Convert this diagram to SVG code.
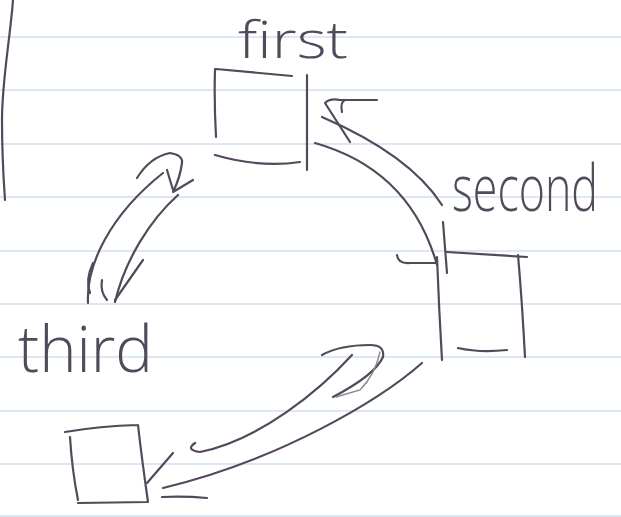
<svg xmlns="http://www.w3.org/2000/svg" width="621" height="517" viewBox="0 0 621 517">
  <style>
    .rule { stroke: #b4d2ee; stroke-width: 1.2; fill: none; }
    .pen { stroke: #514a5a; stroke-width: 2.2; fill: none; stroke-linecap: round; stroke-linejoin: round; }
    .faint { stroke: #8c8594; stroke-width: 1.4; fill: none; stroke-linecap: round; }
    .hand { font-family: "Open Sans", "DejaVu Sans", sans-serif; font-weight: 300; fill: #514a5a; }
  </style>
  <rect width="621" height="517" fill="#ffffff"/>
  <g id="paper">
    <path class="rule" d="M0,37 H621 M0,90 H621 M0,144 H621 M0,197 H621 M0,251 H621 M0,304 H621 M0,357 H621 M0,411 H621 M0,464 H621 M0,516 H621"/>
    <path class="pen" d="M13,0 C10,40 2,80 2,120 C2,160 4,185 5,200"/>
  </g>
  <g id="node-first">
    <path class="pen" d="M215,69 Q214,100 216,137 M216,69 Q250,72 292,76 M215,155 Q260,168 300,162 M307,75 L307,170"/>
    <text class="hand" x="238" y="58" font-size="52" textLength="110" lengthAdjust="spacingAndGlyphs">first</text>
  </g>
  <g id="node-second">
    <path class="pen" d="M437,257 Q439,310 442,360 M447,252 L527,257 M518,255 Q522,300 525,357 M458,348 Q480,353 507,350"/>
    <text class="hand" transform="translate(452,211) scale(1,1.45)" x="0" y="0" font-size="44" textLength="146" lengthAdjust="spacingAndGlyphs">second</text>
  </g>
  <g id="node-third">
    <path class="pen" d="M70,437 Q72,470 78,500 M65,432 Q100,426 138,425 M138,425 Q142,460 148,502 M78,503 L148,502"/>
    <text class="hand" x="18" y="372" font-size="64" textLength="135" lengthAdjust="spacingAndGlyphs">third</text>
  </g>
  <g id="connectors">
    <g id="edge-first-second">
      <path class="pen" d="M315,143 Q410,170 437,265"/>
      <path class="pen" d="M322,117 Q410,155 442,205"/>
      <path class="pen" d="M350,142 L325,103 Q330,98 340,100 L377,100 M342,112 Q340,102 345,100"/>
      <path class="pen" d="M397,255 Q398,264 410,263 L437,263 M443,222 L447,273"/>
    </g>
    <g id="edge-third-first">
      <path class="pen" d="M88,303 C86,265 110,215 163,173"/>
      <path class="pen" d="M115,302 C125,260 150,220 178,195"/>
      <path class="pen" d="M137,178 Q150,157 170,153 Q183,155 182,163 Q180,178 173,192 L193,180 M167,170 L173,190"/>
      <path class="pen" d="M143,260 L115,300 M93,263 Q85,280 90,293 M102,280 Q100,292 107,300"/>
    </g>
    <g id="edge-second-third">
      <path class="pen" d="M422,363 C380,400 280,460 163,488"/>
      <path class="pen" d="M147,483 L173,453 M162,497 Q185,496 207,498"/>
      <path class="pen" d="M195,443 Q185,450 200,452 C260,440 320,390 352,355"/>
      <path class="pen" d="M333,397 Q375,375 383,357 Q385,345 370,345 Q340,345 322,355"/>
      <path class="faint" d="M380,352 Q375,375 360,390 L336,397"/>
    </g>
  </g>
</svg>
